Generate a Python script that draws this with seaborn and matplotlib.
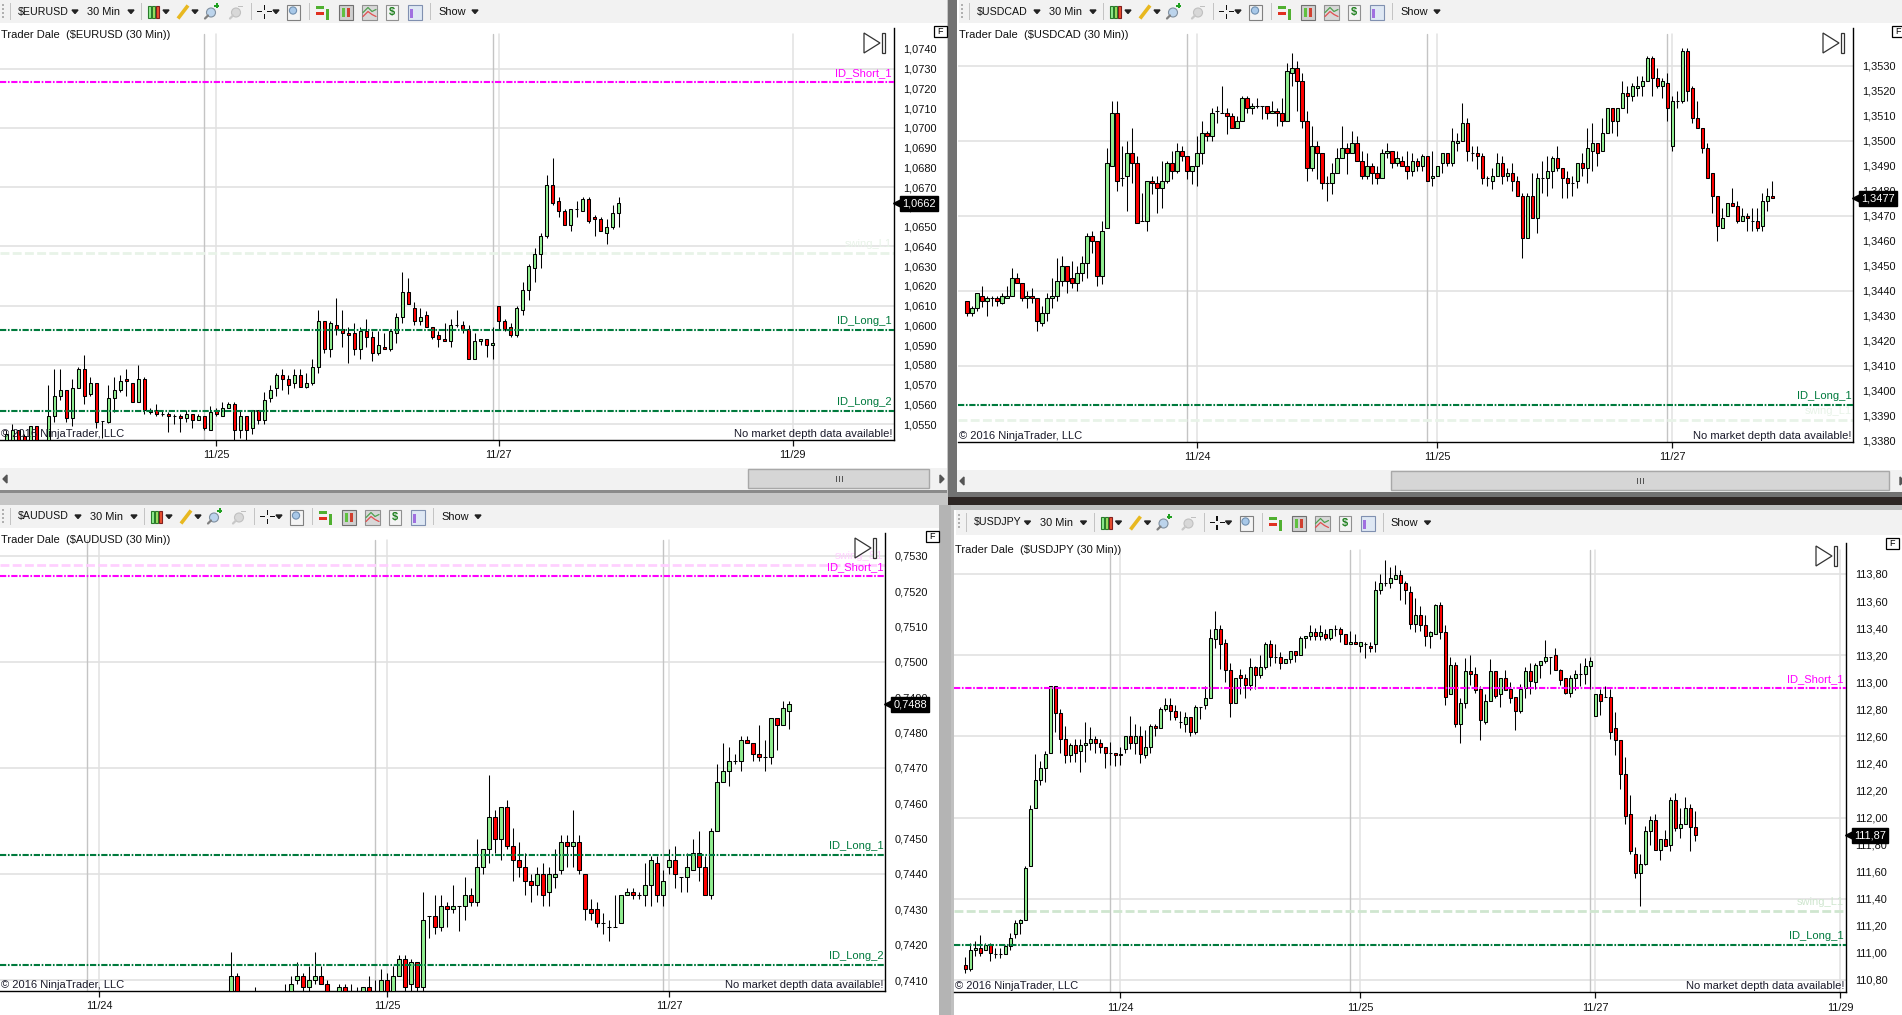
import matplotlib
matplotlib.use("Agg")
import matplotlib.pyplot as plt
from matplotlib.patches import Rectangle, Polygon
from matplotlib.transforms import offset_copy
import pandas as pd
import seaborn as sns

# values are points above a base price: 1.0000 + n * 0.0001 etc
eur_open = [541,541,547,544,541,549,538,541,554,564,
            567,553,568,578,565,571,551.5,551,563,567,
            573,571,561,573,557,557,555,555,554,554,
            553,555,552,554,547,557,554,558,560,547,
            554,548,557,552,563,568,575,573,571,575,
            569,571,579,602,588,600,598,596,596,588,
            597,594,586,589,588,596,604,617,609,602,
            605,599,595,593,592,600,600,598,583,592,
            593,590,610,602,599,595,608,618,629,636,
            645,671,663,658,651,659,658,664,655,654,
            647,650,657]
eur_high = [547,550,547,545,549,549,540,570,578,578,
            567,573,579,585,574,571,551.5,570,574,575,
            578,571,580,574,558,560,557,556,555,555,
            557,555,555,554,559,558,561,561,561,557,
            554,557,557,566,570,576,578,575,578,578,
            576,583,608,602,602,614,608,599,601,599,
            603,597,597,596,598,606,627,624,612,609,
            607,599,597,601,603,608,602,600,596,593,
            593,599,610,603,601,610,622,631,639,647,
            676,685,665,659,659,663,665,665,656,655,
            654,661,665]
eur_low = [540,540,540,540,540,540,536,540,551,562,
           551,549,568,560,564,548,543,550.5,556,566,
           564,561,561,555,555,554,554,546,550,546,
           551,548,552,547,547,554,554,558,540,543,
           540,545,550,550,561,564,567,565,568,569,
           568,570,576,586,584,595,589,581,585,583,
           589,582,585,588,587,591,601,611,600,600,
           599,593,589,592,589,599,596,583,583,590,
           584,583,598,597,594,594,605,613,622,629,
           644,661,655,651,648,655,658,652,645,648,
           641,649,650]
eur_close = [545,547,541,541,549,541,539,554,564,567,
             553,568,578,564,571,551,551.5,563,567,572,
             572,561,573,557,556,555,555,554,554,553,
             555,552,554,548,556,555,558,560,547,554,
             547,557,552,562,567,575,573,570,575,569,
             571,579,602,588,601,598,596,595,588,597,
             594,586,590,588,597,604,617,611,602,604,
             599,594,593,592,600,600,598,583,592,593,
             590,591,602,598,595,609,618,630,636,645,
             671,662,658,651,659,659,664,653,654,648,
             650,657,662]

cad_open = [436,431,433,438,436,437,437,435,437,438,
            445,443,437,438,437,427,431,437,438,444,
            450,445,443,447,451,462,460,446,465,490,
            511,485,486,495,491,468,468,484,483,481,
            484,491,488,496,494,488,490,495,503,502,
            512,511,511,510,505,508,517,513,514,514,
            514,511,512,511,508,527,529,524,508,489,
            498,495,483,483,487,493,497,495,499,492,
            486,490,487,485,495,496,491,492,490,488,
            492,490,494,485,486,491,495,491,499,500,
            507,495,495,494,485,484,486,491,486,487,
            484,478,461,478,469,485,485,488,493,489,
            485,483,484,491,489,496,499,496,503,513,
            508,513,519,518,521,522,524,533,525,522,
            523,498,516,516,536,521,509,505,497,487,
            478,465,470,475,474,468,470,468,468,466,
            476,478]
cad_high = [436,434,439,442,438,438,438,439,442,449,
            447,443,440,441,437,434,439,445,453,454,
            450,452,450,454,463,464,460,468,497,516,
            516,498,500,505,494,479,484,486,486,492,
            492,496,499,498,494,490,502,508,504,513,
            514,522,513,511,510,518,518,515,517,514,
            514,516,513,517,531,535,532,527,512,506,
            500,495,486,491,497,506,499,504,502,496,
            495,491,490,496.5,499,496,496,494,496,495,
            493,494.5,494,496,490,495,495,505,503,515,
            509,498,498,495,486,489,495,494,489,491,
            486,479,479,487,487,492,494,494,498,489,
            488,486,491,495,505,507,499,509,513,513,
            513,524,522,523,526,526,534,534,529,525,
            527,518,520,537,537,522,516,505,499,487,
            478,473,475,481,476,473,471,473,473,479,
            481,484]
cad_low = [430,430,432,433.5,430,434,434,434.5,437,438,
           443,436,433,435,424,426,428,433,436,442,
           439,441,440,444,445,455,442,442.5,465,490,
           480,482,472,483,467,468,464,478.5,471,473,
           483,484.5,487,492,484.5,482.5,482,490.5,500,500,
           507,511,502.5,505,505,508,511,510.5,513,508.5,
           508.5,511,506,506,508,522,512,505,484,488,
           484.5,480.5,476,478.5,487,493,486.5,495,492,484.5,
           484.5,482.5,482.5,485,493,489,490,490,484.5,486,
           488,488,484,482,486,487,490,490,496,500,
           492,492,488.5,482.5,482,480.5,486,482.5,484,480,
           478,453,461,469,463,479,478,481,488,477,
           477,478,481,486,483,488,490,496,503,503,
           502,513,511,516,518,518,524,518,521,517,
           508,496,513,515,516,507,505,495,485,471,
           460,465,470,474,467,468,464,464,464,464,
           472,477]
cad_close = [431,433,439,436,437,437,436,438,438,445,
             443,437,438,437,428,431,437,438,444,450,
             444,443,447,451,462,460,446,464,491,511,
             484,485,495,491,467,468,484,483,481,484,
             491,488,496,494,488,490,495,503,502,511,
             512,511,510,505,508,517,513,514,514,514,
             511,512,511,508,528,529,524,508,489,498,
             495,483,483,487,493,497,495,499,492,486,
             490,487,485,495,496,491,493,490,488,492,
             490,494,484,486,490,495,491,500,500,507,
             496,495,494,485,485,486,491,486,487,484,
             478,461,478,469,485,485,488,493,489,485,
             483,483,491,489,497,499,495,503,513,508,
             513,519,518,522,522,524,533,525,522,524,
             513,516,516,536,520,509,505,497,485,478,
             466,469,475,474,468,470,469,468,465,476,
             478,477]

aud_open = [405,411,404,404,404,402,402,402,402,404,
            405,410,411,408,410,411,409,404,405,408,
            404,404,405,408,404,405,410,405,411,416,
            409,415,408,428,428,425,431,430,431,431,
            434,432,442,447,456,450,459,448,444,442,
            438,437,440,435,439,441,449,448,449,440,
            430,430,426,425,425,426,434,435,434,434,
            437,443,434,442,444,439,439,441,446,442,
            434,452,466,469,472,472,478,477,474,473,
            473,484,482,486]
aud_high = [418,412,407,407,408,405,405,405,405,409,
            411,415,412,414,418,414,410,405,409,409,
            409,408,408,411,410,413,412,414,417,417,
            416,415,435,428,434,434,432,437,431,439,
            436,450,447,468,458,459,461,453,449,446,
            440,442,443,442,447,451,451,458,451,440,
            433,432,429,427,434,434,436,436,435,443,
            445,445,441,447,448,439,446,450,452,445,
            453,471,477,476,474,479,479,477,482,478,
            484,484,489,489]
aud_low = [405,405,403,403,403,401,401,401,401,403,
           405,409,405,405,409,409,405,403,405,405,
           403,403,405,405,403,405,405,405,411,405,
           407,405,407,422,423,424,425,429,424,427,
           431,431,440,443,446,444,447,438,439,434,
           432,434,431,431,436,440,442,442,440,427,
           427,425,423,421,425,426,434,433,433,431,
           431,432,431,440,436,435,435,441,438,434,
           433,452,466,465,471,469,477,472,472,469,
           471,475,482,481]
aud_close = [411,405,405,405,405,403,403,403,403,405,
             409,411,408,410,411,409,405,405,408,405,
             405,405,408,405,405,410,405,411,416,408,
             415,408,427,428,425,431,430,431,431,434,
             432,442,447,456,450,459,448,444,442,438,
             437,440,434,440,440,449,448,449,441,430,
             429,426,426,425,425,434,435,434,434,437,
             444,434,438,444,440,439,442,446,442,434,
             452,466,469,472,472,478,477,474,473,473,
             484,482,487,488]

jpy_open = [91,88,102,104,102,106,99,99,99,105,
            114,122,124,164,207,228,237,248,297,277,
            258,246,254,249,254,255,258,255,252,248,
            248,247,251,260,255,260,246,252,268,266,
            280,283,279,271,269,274,263,282,283,288,
            332,339,329,309,285,305,303,298,311,305,
            311,328,319,319,314,317,323,320,333,334,
            337,334,336,333,339,339,336,328,330,327,
            328,327,328,368,373,373,376,379,373,367,
            343,350,342,334,336,357,337,291,313,269,
            285,308,306,295,271,286,308,291,303,295,
            289,279,296,308,300,313,316,319,320,309,
            303,292,303,306,306,312,275,291,289,289,
            266,257,232,203,173,159,166,190,198,176,
            184,180,213,192,195,207,193]
jpy_high = [97,107,109,113,107,107,104,104,106,115,
            124,125,164,209,247,242,249,297,297,280,
            268,255,258,258,271,267,260,258,252,256,
            248,252,260,275,269,268,265,269,269,282,
            288,288,283,279,278,274,283,282,297,339,
            353,342,332,314,303,310,306,318,312,320,
            330,331,328,322,317,323,323,334,334,342,
            340,342,339,339,342,341,336,338,336,330,
            330,330,375,380,390,385,387,383,375,371,
            362,356,350,338,358,359,342,319,315,288,
            318,320,311,297,291,317,308,303,309,300,
            289,299,311,314,314,316,331,319,325,310,
            303,305,309,314,318,319,291,295,297,295,
            278,257,245,217,178,173,194,201,203,184,
            191,215,218,207,215,210,205]
jpy_low = [85,87,98,98,102,94,96,96,99,102,
           111,114,124,164,207,224,226,248,263,248,
           240,241,241,234,241,250,248,248,237,239,
           238,239,248,251,247,240,244,248,260,266,
           279,272,272,266,263,260,262,273,280,288,
           325,310,300,274,285,291,288,294,295,303,
           310,312,314,310,314,314,315,320,325,331,
           331,331,331,331,334,330,328,328,328,322,
           318,322,322,365,371,370,376,361,358,339,
           337,338,327,325,336,332,283,291,267,255,
           281,298,292,257,269,286,288,282,294,285,
           265,277,288,291,295,303,314,306,309,298,
           291,289,294,297,299,295,275,276,289,258,
           246,221,195,173,155,135,165,180,176,169,
           179,175,190,185,195,175,183]
jpy_close = [88,102,104,100,106,100,99,99,105,111,
             122,124,163,206,228,237,247,297,277,258,
             246,254,248,254,255,258,255,252,248,248,
             246,246,260,255,260,247,252,268,266,280,
             283,279,274,271,274,263,282,282,288,333,
             339,328,309,285,303,303,298,311,305,311,
             328,319,319,314,317,323,320,333,334,337,
             334,337,333,339,339,336,328,330,328,330,
             328,325,368,373,373,377,379,373,368,343,
             350,342,334,337,357,337,289,313,269,285,
             308,306,294,272,286,308,290,303,294,288,
             279,295,308,301,313,316,319,319,309,302,
             292,303,306,306,312,316,291,286,289,263,
             257,232,201,175,159,166,190,198,176,184,
             179,213,192,195,207,193,187]

eur_levels = [("ID_Short_1", 1.07234), ("swing_L1", 1.06365), ("ID_Long_1", 1.05976), ("ID_Long_2", 1.05566)]
cad_levels = [("ID_Long_1", 1.33944), ("swing_L1", 1.33882)]
aud_levels = [("swing_S1", 0.75273), ("ID_Short_1", 0.75243), ("ID_Long_1", 0.74453), ("ID_Long_2", 0.74142)]
jpy_levels = [("ID_Short_1", 112.958), ("swing_L1", 111.308), ("ID_Long_1", 111.06)]

eur_days = {35: "11/25", 82: "11/27", 131: "11/29"}
cad_days = {46: "11/24", 94: "11/25", 141: "11/27"}
aud_days = {-22: "11/24", 26: "11/25", 73: "11/27"}
jpy_days = {31: "11/24", 79: "11/25", 126: "11/27", 175: "11/29"}

W, H = 1902, 1015
BAR_UP = "#90ee90"
BAR_DOWN = "#ff0000"
LONG_GREEN = "#007a3d"
GRID = "#e2e2e2"
SESSION = "#c4c4c4"
PANEL = "#f2f2f2"

sns.set_theme(style="white")
plt.rcParams["font.family"] = ["Liberation Sans", "DejaVu Sans"]

fig = plt.figure(figsize=(W / 100, H / 100), dpi=100, facecolor="#c6c6c6")
back = fig.add_axes([0, 0, 1, 1], zorder=0)
front = fig.add_axes([0, 0, 1, 1], zorder=10)
for a in (back, front):
    a.set_xlim(0, W)
    a.set_ylim(H, 0)
    a.axis("off")
front.patch.set_alpha(0)


def box(a, x, y, w, h, color, edge="none", lw=0.8):
    a.add_patch(Rectangle((x, y), w, h, facecolor=color, edgecolor=edge, linewidth=lw))


def arrow(x, y):
    back.add_patch(Polygon([(x - 3, y - 1.5), (x + 3, y - 1.5), (x, y + 2)], color="#222222"))


def toolbar(x0, y0, w, h, symbol, shift):
    box(back, x0, y0, w, h, PANEL)
    ym = y0 + h / 2
    for k in range(4):
        box(back, x0 + 2, y0 + 4 + k * 4, 2, 2, "#b0b0b0")
    for sx in [10, 141 + shift, 251 + shift, 309 + shift, 430 + shift]:
        box(back, x0 + sx, y0 + 3, 1, h - 6, "#c4c4c4")
    back.text(x0 + 18, ym, symbol, fontsize=7.7, va="center", color="#111111")
    arrow(x0 + 75 + shift, ym)
    back.text(x0 + 87 + shift, ym, "30 Min", fontsize=7.9, va="center", color="#111111")
    arrow(x0 + 131 + shift, ym)
    s = x0 + shift
    t = ym - 7
    # chart style, pencil, zoom buttons
    box(back, s + 148, t + 1, 3, 12, BAR_UP, "#2a7a2a")
    box(back, s + 152, t + 1, 3, 12, "#a0e060", "#2a7a2a")
    box(back, s + 156, t + 1, 3, 12, "#ee5030", "#802020")
    arrow(s + 166, ym)
    back.plot([s + 178, s + 188], [t + 14, t + 1], color="#e8b820", lw=2.6, solid_capstyle="butt")
    arrow(s + 195, ym)
    back.add_patch(plt.Circle((s + 211, t + 8), 4.5, facecolor="#bcd4ec", edgecolor="#8090a0", lw=0.8))
    back.plot([s + 205, s + 208], [t + 14, t + 11], color="#808080", lw=1.6)
    box(back, s + 214, t, 5, 2, "#20a020")
    box(back, s + 215.5, t - 1.5, 2, 5, "#20a020")
    back.add_patch(plt.Circle((s + 236, t + 8), 4.5, facecolor="#d8d8d8", edgecolor="#c0c0c0", lw=0.8))
    back.plot([s + 230, s + 233], [t + 14, t + 11], color="#c8c8c8", lw=1.6)
    box(back, s + 238, t + 1, 5, 1.5, "#c0c0c0")
    # crosshair
    box(back, s + 257, ym - 0.8, 5, 1.6, "#111111")
    box(back, s + 267, ym - 0.8, 5, 1.6, "#111111")
    box(back, s + 263.8, t, 1.6, 5, "#111111")
    box(back, s + 263.8, t + 9, 1.6, 5, "#111111")
    arrow(s + 276, ym)
    box(back, s + 287, t, 13, 15, "#f4f4f4", "#808080")
    back.add_patch(plt.Circle((s + 293, t + 6), 3.6, facecolor="#a8c8e8", edgecolor="#7090b0", lw=0.8))
    # order and panel icons
    box(back, s + 316, t + 1, 8, 3, "#50b030")
    box(back, s + 316, t + 7, 8, 3, "#e03020")
    box(back, s + 326, t + 4, 3, 11, "#50b030")
    box(back, s + 339, t, 14, 15, "#d0d0d0", "#707070")
    box(back, s + 342, t + 3, 3, 9, "#60c040")
    box(back, s + 347, t + 3, 3, 9, "#d04030")
    box(back, s + 362, t, 15, 15, "#d8d8d8", "#909090")
    back.plot([s + 363, s + 368, s + 372, s + 376], [t + 8, t + 3, t + 7, t + 5], color="#50a050", lw=0.9)
    back.plot([s + 363, s + 368, s + 372, s + 376], [t + 12, t + 7, t + 10, t + 12], color="#e05050", lw=0.9)
    box(back, s + 386, t, 12, 15, "#f4f4f4", "#909090")
    back.text(s + 392, t + 7.5, "$", fontsize=8, color="#208020", ha="center", va="center", fontweight="bold")
    box(back, s + 408, t, 14, 15, "#dfe8f4", "#8090b0")
    box(back, s + 410, t + 4, 3, 9, "#a070e0")
    back.text(x0 + 438 + shift, ym, "Show", fontsize=7.9, va="center", color="#111111")
    arrow(x0 + 475 + shift, ym)


def scrollbar(x0, y0, w, h, thumb_left, thumb_right):
    box(back, x0, y0, w, h, PANEL)
    box(back, thumb_left, y0 + 1, thumb_right - thumb_left, h - 3, "#d6d6d6", "#a8a8a8", 1.0)
    mid = (thumb_left + thumb_right) / 2
    for k in (-3, 0, 3):
        box(back, mid + k, y0 + h / 2 - 3.5, 1, 6, "#555555")
    back.add_patch(Polygon([(x0 + 7, y0 + h / 2 - 4), (x0 + 7, y0 + h / 2 + 4), (x0 + 3, y0 + h / 2)], color="#555555"))
    r = thumb_right + 11
    back.add_patch(Polygon([(r, y0 + h / 2 - 4), (r, y0 + h / 2 + 4), (r + 4, y0 + h / 2)], color="#555555"))


def pane(left, top, right, bottom, candles, base, unit, xlim, ylim, yticks, labelled, grid, decimals,
         days, sessions, levels, last, swing_color, title, icon_x, icon_y, f_box, body_width):
    ax = fig.add_axes([left / W, 1 - bottom / H, (right - left) / W, (bottom - top) / H], zorder=5)
    o, h, l, c = candles
    df = pd.DataFrame({"bar": range(len(o)), "open": o, "high": h, "low": l, "close": c})
    for col in ["open", "high", "low", "close"]:
        df[col] = base + df[col] * unit
    df["bottom"] = df[["open", "close"]].min(axis=1)
    df["height"] = (df["close"] - df["open"]).abs()

    for g in grid:
        ax.axhline(g, color=GRID, lw=1.2, zorder=1)
    for d in days:
        ax.axvline(d, ymax=0.985, color=GRID, lw=1.1, zorder=1)
    for s in sessions:
        ax.axvline(s, ymax=0.985, color=SESSION, lw=1.0, zorder=1)

    ax.vlines(df["bar"], df["low"], df["high"], color="black", lw=0.75, zorder=2)
    for up, colour in [(True, BAR_UP), (False, BAR_DOWN)]:
        part = df[(df["close"] >= df["open"]) == up]
        sns.barplot(data=part, x="bar", y="height", bottom=part["bottom"].values, native_scale=True,
                    width=body_width, color=colour, saturation=1, edgecolor="black", linewidth=0.75,
                    errorbar=None, ax=ax, zorder=3)

    for name, value in levels:
        if name.startswith("swing"):
            colour = swing_color
            ax.axhline(value, color=colour, lw=2, ls=(0, (3.2, 1.2)), zorder=1.5)
        else:
            colour = "#ff00ff" if "Short" in name else LONG_GREEN
            ax.axhline(value, color=colour, lw=1.5, ls=(0, (3, 0.8, 0.8, 0.8)), zorder=4)
        ax.annotate(name, xy=(1, value), xycoords=ax.get_yaxis_transform(), xytext=(-2, 4),
                    textcoords="offset pixels", ha="right", va="bottom", fontsize=8,
                    color=colour if "swing" not in name else swing_color, zorder=6)

    ax.set_xlim(*xlim)
    ax.set_ylim(*ylim)
    ax.set_xlabel("")
    ax.set_ylabel("")
    ax.yaxis.tick_right()
    ax.set_yticks(yticks)
    ax.set_yticklabels([f"{v:.{decimals}f}".replace(".", ",") if v in labelled else "" for v in yticks])
    ax.set_xticks(list(days))
    ax.set_xticklabels(list(days.values()))
    ax.tick_params(axis="y", length=4.5, width=0.9, pad=2, labelsize=7.9, colors="#111111", right=True)
    ax.tick_params(axis="x", length=4.5, width=0.9, pad=3, labelsize=7.9, colors="#111111", bottom=True)
    sns.despine(ax=ax, left=True, top=True, right=False, bottom=False)
    for side in ("right", "bottom"):
        ax.spines[side].set_color("black")
        ax.spines[side].set_linewidth(1.0)

    # last price flag
    flag = offset_copy(ax.get_yaxis_transform(), fig=fig, x=4.5, y=0, units="dots")
    ax.plot([1], [last], marker="<", ms=8, color="black", transform=flag, clip_on=False, zorder=7)
    ax.annotate(f"{last:.{decimals}f}".replace(".", ","), xy=(1, last), xycoords=ax.get_yaxis_transform(),
                xytext=(8, -0.5), textcoords="offset pixels", color="white", fontsize=7.9, va="center",
                annotation_clip=False, zorder=8,
                bbox=dict(boxstyle="square,pad=0.2", fc="black", ec="black"))

    front.text(left + 1, top + 7, title, fontsize=8, va="center", color="#111111")
    front.text(left + 1, bottom - 6, "\u00a9 2016 NinjaTrader, LLC", fontsize=8, va="center", color="#1a1a2a")
    front.text(right - 2, bottom - 6, "No market depth data available!", fontsize=8, va="center",
               ha="right", color="#1a1a2a")
    front.add_patch(Polygon([(icon_x, icon_y), (icon_x, icon_y + 20), (icon_x + 16, icon_y + 10)],
                            facecolor="white", edgecolor="#333333", lw=0.9))
    box(front, icon_x + 18, icon_y, 2.5, 20, "white", "#333333", 0.9)
    box(front, f_box[0], f_box[1], 13, 11, "white", "black", 0.9)
    front.text(f_box[0] + 6.5, f_box[1] + 5.5, "F", fontsize=6.5, ha="center", va="center", color="black")
    return ax


# window frames
box(back, 0, 0, 947, 490, "white")
box(back, 0, 490, 947, 3, "#8a8a8a")
box(back, 948, 0, 954, 497, "#727272")
box(back, 957, 0, 945, 492, "white")
box(back, 948, 497, 954, 10, "#2e2624")
box(back, 0, 505, 939, 510, "white")
box(back, 939, 505, 12, 510, "#b4b4b4")
box(back, 951, 505, 951, 510, "#c0c0c0")
box(back, 954, 510, 948, 505, "white")

toolbar(0, 0, 947, 23, "$EURUSD", 0)
toolbar(959, 0, 943, 23, "$USDCAD", 3)
toolbar(0, 505, 939, 23, "$AUDUSD", 3)
toolbar(956, 510, 946, 25, "$USDJPY", -3.5)
scrollbar(0, 468, 947, 22, 748, 929)
scrollbar(957, 470, 945, 22, 1391, 1889)

pane(0, 28, 894, 440, (eur_open, eur_high, eur_low, eur_close), 1.0, 0.0001,
     (-1.067, 147.9), (1.05419, 1.07506),
     [1.055 + k * 0.001 for k in range(21)], [1.055 + k * 0.001 for k in range(20)],
     [1.055 + k * 0.003 for k in range(7)], 4,
     eur_days, [33, 81], eur_levels, 1.0662, "#e8f3e8", "Trader Dale  ($EURUSD (30 Min))", 864, 33, (934, 26), 0.63)

pane(958.3, 28, 1853.4, 442, (cad_open, cad_high, cad_low, cad_close), 1.3, 0.0001,
     (-1.8, 177.2), (1.33795, 1.3545),
     [1.338 + k * 0.001 for k in range(17)], [1.338 + k * 0.001 for k in range(16)],
     [1.341 + k * 0.003 for k in range(5)], 4,
     cad_days, [44, 92, 140], cad_levels, 1.3477, "#e8f3e8", "Trader Dale  ($USDCAD (30 Min))", 1823, 33, (1892, 26), 0.74)

pane(0, 533, 885.4, 991, (aud_open, aud_high, aud_low, aud_close), 0.7, 0.0001,
     (-38.55, 109), (0.74069, 0.75364),
     [0.741 + k * 0.001 for k in range(13)], [0.741 + k * 0.001 for k in range(13)],
     [0.741 + k * 0.003 for k in range(5)], 4,
     aud_days, [-24, 24, 72], aud_levels, 0.7488, "#ffd0ff", "Trader Dale  ($AUDUSD (30 Min))", 855, 538, (926, 531), 0.63)

pane(954, 543, 1846, 992.3, (jpy_open, jpy_high, jpy_low, jpy_close), 110.0, 0.01,
     (-2.27, 176.1), (110.709, 114.029),
     [110.8 + k * 0.2 for k in range(17)], [110.8 + k * 0.2 for k in range(16)],
     [110.8 + k * 0.6 for k in range(6)], 2,
     jpy_days, [29, 77, 125], jpy_levels, 111.87, "#cfe6cf", "Trader Dale  ($USDJPY (30 Min))", 1816, 546, (1886, 538), 0.74)

fig.savefig("out.png", dpi=100, facecolor=fig.get_facecolor())
